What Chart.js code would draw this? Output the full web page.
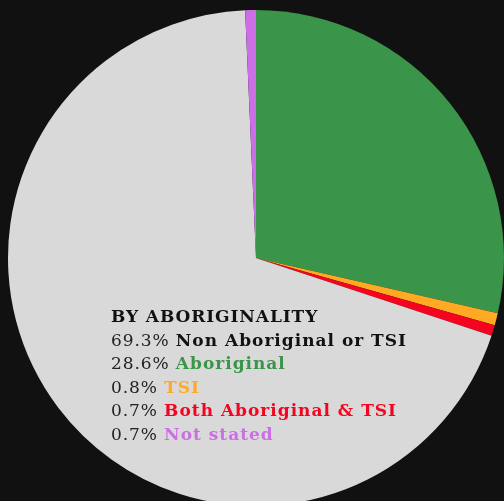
<!DOCTYPE html>
<html>
<head>
<meta charset="utf-8">
<script src="https://cdn.jsdelivr.net/npm/chart.js@4"></script>
<style>
  html, body { margin: 0; padding: 0; background: #111111; overflow: hidden; width: 504px; height: 501px; }
  #wrap { position: absolute; left: 0; top: 0; width: 512px; height: 516px; }
  #legend {
    position: absolute; left: 111px; top: 305px;
    font-family: 'DejaVu Serif', serif; font-size: 17px; line-height: 23.5px;
    letter-spacing: 0.9px; color: #222222; white-space: nowrap;
  }
  #legend .title { font-weight: bold; letter-spacing: 0.9px; color: #111111; }
  #legend b { letter-spacing: 1px; }
</style>
</head>
<body>
<div id="wrap"><canvas id="pie" width="512" height="516"></canvas></div>
<div id="legend"></div>
<script>
// slice order as drawn, clockwise from 12 o'clock
const categories = ['Aboriginal', 'TSI', 'Both Aboriginal & TSI', 'Non Aboriginal or TSI', 'Not stated'];
const shares = [28.6, 0.8, 0.7, 69.3, 0.7];
const sliceColors = ['#3a944a', '#ffaa22', '#f5041f', '#d9d9d9', '#cc6ee6'];
const labelColors = ['#3a944a', '#ffaa22', '#f5041f', '#111111', '#cc6ee6'];
// legend order
const legendOrder = [3, 0, 1, 2, 4];
const legendTitle = 'BY ABORIGINALITY';

function el(id) { return document.getElementById(id); }

new Chart(el('pie').getContext('2d'), {
    type: 'pie',
    data: {
        labels: categories,
        datasets: [{
            data: shares,
            backgroundColor: sliceColors,
            borderWidth: 0
        }]
    },
    options: {
        responsive: false,
        animation: false,
        layout: { padding: { left: 8, right: 8, top: 10, bottom: 10 } },
        plugins: {
            legend: { display: false },
            tooltip: { enabled: false }
        }
    }
});

// legend text block
let html = '<div class="title">' + legendTitle + '</div>';
legendOrder.forEach(i => {
    html += '<div>' + shares[i].toFixed(1) + '% <b style="color:' + labelColors[i] + '">' + categories[i] + '</b></div>';
});
el('legend').innerHTML = html;
</script>
</body>
</html>
